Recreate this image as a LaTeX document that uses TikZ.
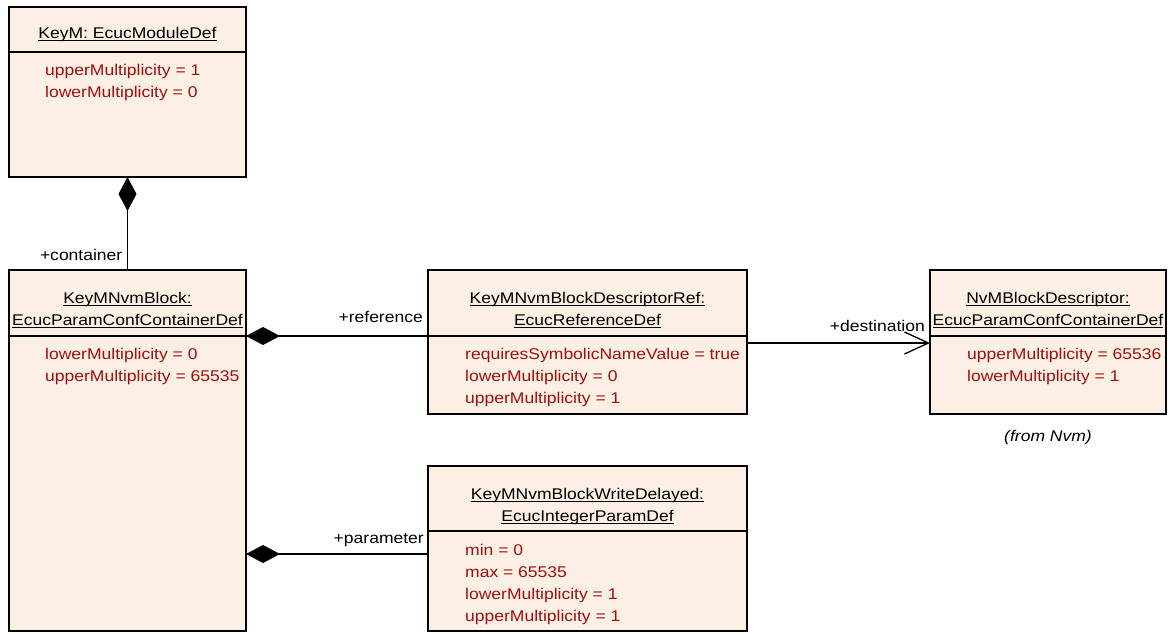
\documentclass[tikz,border=0pt]{standalone}
\usepackage{fontspec}
\setmainfont{Liberation Sans}[FakeStretch=1.13]
\usetikzlibrary{positioning,arrows.meta}
\definecolor{classfill}{RGB}{251,240,227}
\definecolor{attrred}{RGB}{158,16,16}
\begin{document}
\begin{tikzpicture}[x=1pt,y=-1pt,
    every node/.style={font=\fontsize{15.5}{22}\selectfont},
    head/.style={draw,line width=1.3pt,fill=classfill,anchor=north west,inner sep=0,outer sep=0,minimum height=66pt},
    body/.style={draw,line width=1.3pt,fill=classfill,inner sep=0,outer sep=0},
    title/.style={anchor=north,inner sep=0,align=center},
    attr/.style={anchor=north west,inner sep=0,align=left,text=attrred},
    role/.style={anchor=base east,inner sep=0},
    comp/.style={{Diamond[length=34pt,width=18pt]}-,line width=1.3pt},
    navi/.style={-{Straight Barb[length=24pt,width=22pt]},line width=1.3pt}]
    \useasboundingbox (0,0) rectangle (1172,632);
    % classes
    \node[head,minimum width=237pt,minimum height=45pt] (kmh) at (9,7) {};
    \node[body,minimum width=237pt,minimum height=125pt,below=0pt of kmh] (kmb) {};
    \node[head,minimum width=237pt] (blkh) at (9,270) {};
    \node[body,minimum width=237pt,minimum height=295pt,below=0pt of blkh] (blkb) {};
    \node[head,minimum width=319pt] (refh) at (428,270) {};
    \node[body,minimum width=319pt,minimum height=78pt,below=0pt of refh] (refb) {};
    \node[head,minimum width=236pt] (nvmh) at (930,270) {};
    \node[body,minimum width=236pt,minimum height=78pt,below=0pt of nvmh] (nvmb) {};
    \node[head,minimum width=319pt,minimum height=65pt] (wdh) at (428,466) {};
    \node[body,minimum width=319pt,minimum height=100pt,below=0pt of wdh] (wdb) {};
    % titles
    \node[title] (kmt) at ([yshift=-31.5pt]kmh.north) {\underline{\smash{KeyM: EcucModuleDef}}};
    \node[title] (blkt) at ([yshift=-33.5pt]blkh.north) {\underline{\smash{KeyMNvmBlock:}}\\\underline{\smash{EcucParamConfContainerDef}}};
    \node[title] (reft) at ([yshift=-33.5pt]refh.north) {\underline{\smash{KeyMNvmBlockDescriptorRef:}}\\\underline{\smash{EcucReferenceDef}}};
    \node[title] (nvmt) at ([yshift=-33.5pt]nvmh.north) {\underline{\smash{NvMBlockDescriptor:}}\\\underline{\smash{EcucParamConfContainerDef}}};
    \node[title] (wdt) at ([yshift=-33.5pt]wdh.north) {\underline{\smash{KeyMNvmBlockWriteDelayed:}}\\\underline{\smash{EcucIntegerParamDef}}};
    % attributes
    \node[attr] (kma) at ([xshift=36pt,yshift=-12pt]kmb.north west) {upperMultiplicity = 1\\lowerMultiplicity = 0};
    \node[attr] (blka) at ([xshift=36pt,yshift=-12pt]blkb.north west) {lowerMultiplicity = 0\\upperMultiplicity = 65535};
    \node[attr] (refa) at ([xshift=37pt,yshift=-12pt]refb.north west) {requiresSymbolicNameValue = true\\lowerMultiplicity = 0\\upperMultiplicity = 1};
    \node[attr] (nvma) at ([xshift=37pt,yshift=-12pt]nvmb.north west) {upperMultiplicity = 65536\\lowerMultiplicity = 1};
    \node[attr] (wda) at ([xshift=37pt,yshift=-13pt]wdb.north west) {min = 0\\max = 65535\\lowerMultiplicity = 1\\upperMultiplicity = 1};
    \node[anchor=base,inner sep=0] (fromnvm) at ([yshift=-27pt]nvmb.south) {\itshape (from Nvm)};
    % connectors
    \coordinate (pline) at ([yshift=-23pt]wdb.north west);
    \draw[comp] (kmb.south) -- (blkh.north);
    \draw[comp] (blkh.south east) -- (refh.south west);
    \draw[navi] ([yshift=-7pt]refb.north east) -- ([yshift=-7pt]nvmb.north west);
    \draw[comp] (blkb.east |- pline) -- (pline);
    \node[role] (lcont) at ([xshift=-5pt,yshift=10pt]blkh.north) {+container};
    \node[role] (lref) at ([xshift=-5pt,yshift=14pt]refh.south west) {+reference};
    \node[role] (ldest) at ([xshift=-5pt,yshift=4.5pt]nvmb.north west) {+destination};
    \node[role] (lpar) at ([xshift=-4pt,yshift=-12.5pt]wdb.north west) {+parameter};
\end{tikzpicture}
\end{document}
